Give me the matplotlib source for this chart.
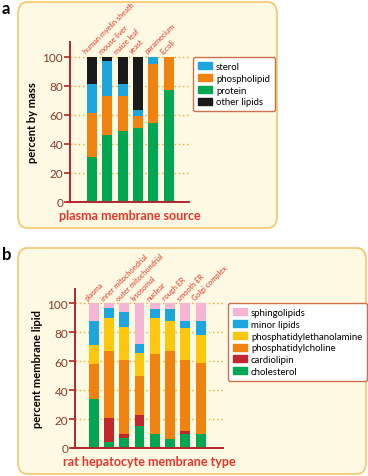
import matplotlib
matplotlib.use("Agg")
import matplotlib.pyplot as plt
from matplotlib.patches import FancyBboxPatch, Patch
import numpy as np

plt.rcParams['font.family'] = ['Lato', 'DejaVu Sans']

W, H = 368, 477

# panel a data (percent by mass)
sources = ["human myelin sheath", "mouse liver", "maize leaf", "yeast",
           "paramecium", "E.coli"]
protein = [31, 46, 49, 51, 54, 77]
phospholipid = [30, 27, 24, 8, 41, 23]
sterol = [20, 24, 8, 4, 5, 0]
other_lipids = [19, 3, 19, 37, 0, 0]

# panel b data (percent membrane lipid)
membranes = ["plasma", "inner mitochondrial", "outer mitochondrial", "lysosomal",
             "nuclear", "rough ER", "smooth ER", "Golgi complex"]
cholesterol = [34, 4, 7, 15, 10, 6, 10, 10]
cardiolipin = [0, 17, 3, 8, 0, 0, 2, 0]
phosphatidylcholine = [24, 46, 51, 27, 55, 61, 49, 49]
phosphatidylethanolamine = [13, 23, 23, 16, 25, 21, 22, 19]
minor_lipids = [17, 7, 10, 6, 6, 8, 5, 10]
sphingolipids = [12, 3, 6, 28, 4, 4, 12, 12]

GREEN = "#00a651"
ORANGE = "#f0820f"
BLUE = "#1ca6dd"
BLACK = "#1a1a1a"
PINK = "#f6b5d2"
YELLOW = "#fdc70e"
RED = "#c1272d"
AXRED = "#b3262b"
TICKC = "#8a3c2c"
LABRED = "#e8352c"


def px_axes(fig, left, top, right, bottom):
    return fig.add_axes([left / W, 1 - bottom / H, (right - left) / W, (bottom - top) / H])


def style_axes(ax, xl, xr):
    ax.set_xlim(xl, xr)
    ax.set_ylim(0, 110)
    ax.patch.set_alpha(0)
    for s in ["top", "right", "bottom"]:
        ax.spines[s].set_visible(False)
    ax.spines["left"].set_color(AXRED)
    ax.spines["left"].set_linewidth(1.4)
    # x axis line runs a little past the y axis on the left
    ax.axhline(0, xmin=-0.02, xmax=1, color=AXRED, lw=1.4, clip_on=False, zorder=3)
    ax.set_xticks([])
    ax.set_yticks([0, 20, 40, 60, 80, 100])
    ax.tick_params(axis="y", colors=AXRED, labelcolor=TICKC, labelsize=8.5,
                   length=4, width=1.2, pad=1)
    for v in [20, 40, 60, 80, 100]:
        ax.axhline(v, color="#f0a830", lw=1.0, ls=(0, (1, 2)), zorder=0)


def add_panel_box(fig, left, top, right, bottom):
    box = FancyBboxPatch((left / W, 1 - bottom / H), (right - left) / W, (bottom - top) / H,
                         boxstyle="round,pad=0,rounding_size=0.025",
                         transform=fig.transFigure, facecolor="#fdf9e2",
                         edgecolor="#f3c76a", lw=1.2, zorder=-1)
    fig.patches.append(box)


def add_legend(fig, handles, left, top):
    leg = fig.legend(handles=handles, loc="upper left", bbox_to_anchor=(left / W, 1 - top / H),
                     fontsize=6.9, frameon=True, fancybox=True, handlelength=1.45,
                     handleheight=0.75, handletextpad=0.45, labelspacing=0.3,
                     borderpad=0.5, borderaxespad=0)
    fr = leg.get_frame()
    fr.set_edgecolor("#d0704a")
    fr.set_linewidth(1.0)
    fr.set_facecolor("white")
    fr.set_alpha(1)
    return leg


fig = plt.figure(figsize=(W / 100, H / 100), dpi=100)
fig.patch.set_facecolor("white")

add_panel_box(fig, 18, 3, 277, 229)
add_panel_box(fig, 18, 249, 366, 475)
fig.text(2 / W, 1 - 9 / H, "a", fontsize=12, fontweight="bold", va="center")
fig.text(2 / W, 1 - 255 / H, "b", fontsize=12, fontweight="bold", va="center")

# ---- panel a
ax = px_axes(fig, 70, 43, 189, 203)
x = np.arange(len(sources))
style_axes(ax, -1.43, 6.33)
bw = 0.65
bottom = np.zeros(len(sources))
for vals, col in [(protein, GREEN), (phospholipid, ORANGE), (sterol, BLUE), (other_lipids, BLACK)]:
    ax.bar(x, vals, bw, bottom=bottom, color=col, zorder=2)
    bottom += np.array(vals)
for i, name in enumerate(sources):
    ax.text(i - 0.3, 101.5, name, rotation=45, rotation_mode="anchor",
            ha="left", va="bottom", fontsize=5.3, color=LABRED)
ax.set_ylabel("percent by mass", fontsize=8, fontweight="bold", labelpad=3)
ax.set_xlabel("plasma membrane source", fontsize=9, fontweight="bold",
              color=LABRED, labelpad=5)
add_legend(fig, [Patch(color=BLUE, label="sterol"), Patch(color=ORANGE, label="phospholipid"),
                 Patch(color=GREEN, label="protein"), Patch(color=BLACK, label="other lipids")],
           193, 58)

# ---- panel b
ax2 = px_axes(fig, 75, 290, 223, 449)
x2 = np.arange(len(membranes))
style_axes(ax2, -1.21, 8.45)
bottom = np.zeros(len(membranes))
for vals, col in [(cholesterol, GREEN), (cardiolipin, RED), (phosphatidylcholine, ORANGE),
                  (phosphatidylethanolamine, YELLOW), (minor_lipids, BLUE),
                  (sphingolipids, PINK)]:
    ax2.bar(x2, vals, bw, bottom=bottom, color=col, zorder=2)
    bottom += np.array(vals)
for i, name in enumerate(membranes):
    ax2.text(i - 0.3, 101.5, name, rotation=45, rotation_mode="anchor",
             ha="left", va="bottom", fontsize=5.3, color=LABRED)
ax2.set_ylabel("percent membrane lipid", fontsize=8, fontweight="bold", labelpad=3)
ax2.set_xlabel("rat hepatocyte membrane type", fontsize=9, fontweight="bold",
               color=LABRED, labelpad=5)
add_legend(fig, [Patch(color=PINK, label="sphingolipids"), Patch(color=BLUE, label="minor lipids"),
                 Patch(color=YELLOW, label="phosphatidylethanolamine"),
                 Patch(color=ORANGE, label="phosphatidylcholine"),
                 Patch(color=RED, label="cardiolipin"), Patch(color=GREEN, label="cholesterol")],
           228, 304)

fig.savefig("out.png", dpi=100)
